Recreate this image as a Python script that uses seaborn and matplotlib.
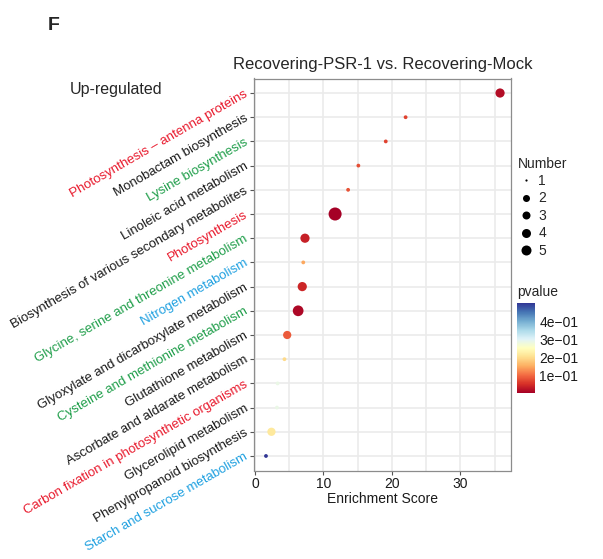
import matplotlib
matplotlib.use('Agg')
import matplotlib.pyplot as plt
import matplotlib.colors as mcolors
from matplotlib.lines import Line2D
import pandas as pd
import seaborn as sns
import numpy as np

# data, top row first
pathways = ['Photosynthesis \u2013 antenna proteins', 'Monobactam biosynthesis', 'Lysine biosynthesis',
            'Linoleic acid metabolism', 'Biosynthesis of various secondary metabolites', 'Photosynthesis',
            'Glycine, serine and threonine metabolism', 'Nitrogen metabolism',
            'Glyoxylate and dicarboxylate metabolism', 'Cysteine and methionine metabolism',
            'Glutathione metabolism', 'Ascorbate and aldarate metabolism',
            'Carbon fixation in photosynthetic organisms', 'Glycerolipid metabolism',
            'Phenylpropanoid biosynthesis', 'Starch and sucrose metabolism']
enrichment = [35.8, 22.0, 19.1, 15.1, 13.6, 11.7, 7.3, 7.05, 6.9, 6.3, 4.7, 4.3, 3.3, 3.2, 2.4, 1.6]
number = [4, 1, 1, 1, 1, 10, 4, 1, 4, 6, 3, 1, 1, 1, 3, 1]
pvalue = [0.02, 0.07, 0.07, 0.08, 0.085, 0.005, 0.04, 0.15, 0.045, 0.015, 0.09, 0.2, 0.29, 0.29, 0.22, 0.505]
label_colors = ['red', 'black', 'green', 'black', 'black', 'red', 'green', 'blue', 'black', 'green',
                'black', 'black', 'red', 'black', 'black', 'blue']
legend_numbers = [1, 2, 3, 4, 5]
cbar_ticks = [0.1, 0.2, 0.3, 0.4]

palette_text = {'red': '#E8192C', 'green': '#1F9E4A', 'blue': '#1FA0E0', 'black': '#1a1a1a'}

df = pd.DataFrame({'Pathway': pathways, 'Score': enrichment, 'Number': number, 'pvalue': pvalue})

sns.set_style('white')
plt.rcParams['font.family'] = ['Liberation Sans', 'DejaVu Sans']

W, H = 603, 559
fig = plt.figure(figsize=(W / 100, H / 100), dpi=100)
ax = fig.add_axes([254 / W, 1 - 470.5 / H, (511 - 254) / W, (470.5 - 78.5) / H])

def diam(n):
    # point diameter in px, ggplot-like area scale
    if n <= 1:
        return 3.8
    return 1.81 * (1 + 5 * np.sqrt((n - 1) / 9)) + 2.17

size_map = {n: (diam(n) * 0.72) ** 2 for n in sorted(set(number))}
norm = mcolors.Normalize(vmin=0.0056, vmax=0.505)
cmap = plt.get_cmap('RdYlBu')

sns.scatterplot(data=df, x='Score', y='Pathway', hue='pvalue', hue_norm=norm, palette=cmap,
                size='Number', sizes=size_map, linewidth=0, legend=False, ax=ax, zorder=3)

ax.set_xlim(-0.15, 37.4)
ax.set_ylim(len(pathways) - 0.4, -0.6)
ax.set_xticks([0, 10, 20, 30])
ax.set_xticks([5, 15, 25, 35], minor=True)
ax.grid(True, which='major', color='#ebebeb', linewidth=1.2)
ax.grid(True, which='minor', axis='x', color='#ebebeb', linewidth=1.2)
ax.set_axisbelow(True)
for sp in ax.spines.values():
    sp.set_color('#8c8c8c')
    sp.set_linewidth(0.9)
ax.tick_params(axis='both', which='major', length=3, color='#555555', width=0.8,
               labelsize=10, labelcolor='#1a1a1a', bottom=True, left=True, pad=1.5)
ax.tick_params(axis='y', labelsize=9.5, pad=2)
ax.tick_params(axis='x', which='minor', length=0)
ax.set_xlabel('Enrichment Score', fontsize=10, color='#1a1a1a', labelpad=1)
ax.set_ylabel('')

ax.set_yticks(range(len(pathways)))
ax.set_yticklabels(pathways, rotation=30, ha='right', va='center', rotation_mode='anchor')
for lab, c in zip(ax.get_yticklabels(), label_colors):
    lab.set_color(palette_text[c])

ax.set_title('Recovering-PSR-1 vs. Recovering-Mock', fontsize=12, pad=7)

fig.text(48 / W, 1 - 25 / H, 'F', fontsize=14, fontweight='bold', va='center', ha='left')
fig.text(70 / W, 1 - 90 / H, 'Up-regulated', fontsize=11.5, va='center', ha='left')

# size legend
handles = [Line2D([], [], marker='o', linestyle='', color='black', markeredgewidth=0,
                  markersize=d * 0.72)
           for d in [2.2, 7, 8, 9, 10]]
leg = fig.legend(handles, [str(n) for n in legend_numbers], title='Number', loc='upper left',
                 bbox_to_anchor=(512 / W, 1 - 151 / H), frameon=False, fontsize=10,
                 title_fontsize=10, labelspacing=0.25, handletextpad=0.3, handlelength=1.2,
                 borderaxespad=0)
leg._legend_box.align = 'left'

# colorbar
cax = fig.add_axes([517 / W, 1 - 393 / H, 18 / W, 90 / H])
sm = plt.cm.ScalarMappable(norm=norm, cmap=cmap)
cb = fig.colorbar(sm, cax=cax, ticks=cbar_ticks)
cb.outline.set_visible(False)
cb.ax.set_yticklabels([f'{t:.0e}'.replace('-', '\u2212') for t in cbar_ticks])
cb.ax.tick_params(color='white', direction='in', length=4, width=0.8, labelsize=10,
                  labelcolor='#1a1a1a', left=True, right=True, pad=3)
fig.text(517 / W, 1 - 292 / H, 'pvalue', fontsize=10, va='center', ha='left')

fig.savefig('out.png', dpi=100)
